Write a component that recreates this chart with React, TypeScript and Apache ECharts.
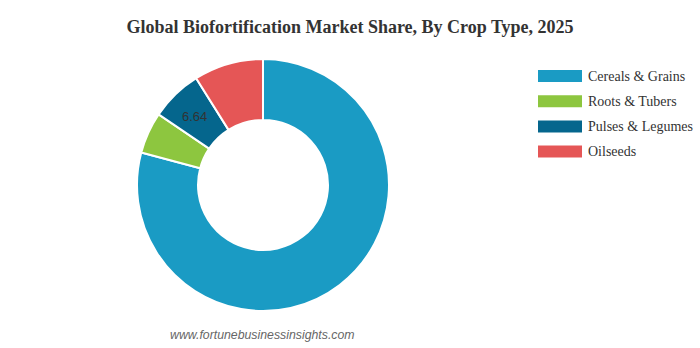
import React, { useEffect, useRef } from "react";
import * as echarts from "echarts";

const categories = ["Cereals & Grains", "Roots & Tubers", "Pulses & Legumes", "Oilseeds"];
const values = [79.16, 5.3, 6.64, 8.9];
const colors = ["#1a9bc4", "#8dc63f", "#05668d", "#e55656"];
const shownLabels = ["Pulses & Legumes"];

export default function App() {
  const ref = useRef<HTMLDivElement>(null);
  useEffect(() => {
    document.body.style.margin = "0";
    const chart = echarts.init(ref.current!, undefined, { renderer: "svg" });
    chart.setOption({
      animation: false,
      backgroundColor: "#ffffff",
      title: {
        text: "Global Biofortification Market Share, By Crop Type, 2025",
        left: "center",
        top: 13,
        textStyle: { fontFamily: "Liberation Serif", fontSize: 18, fontWeight: "bold", color: "#333" },
      },
      legend: {
        orient: "vertical",
        left: 531,
        top: 63,
        itemWidth: 46,
        itemHeight: 14,
        itemGap: 9.2,
        icon: "rect",
        data: categories,
        textStyle: { fontFamily: "Liberation Serif", fontSize: 14, lineHeight: 14, color: "#333" },
      },
      graphic: [
        {
          type: "text",
          left: 170,
          top: 329,
          style: {
            text: "www.fortunebusinessinsights.com",
            font: "italic 12.3px 'Liberation Sans'",
            fill: "#666",
          },
        },
      ],
      series: [
        {
          type: "pie",
          center: [263, 185],
          radius: [65, 126],
          startAngle: 90,
          clockwise: true,
          itemStyle: { borderColor: "#fff", borderWidth: 2 },
          label: { show: false },
          labelLine: { show: false },
          data: categories.map((c, i) => ({
            name: c,
            value: values[i],
            itemStyle: { color: colors[i] },
            label: shownLabels.includes(c)
              ? {
                  show: true,
                  position: "inside",
                  formatter: "{c}",
                  fontFamily: "Liberation Sans",
                  fontSize: 13,
                  color: "#333",
                  offset: [0, 2],
                }
              : { show: false },
          })),
        },
      ],
    });
    return () => chart.dispose();
  }, []);
  return <div ref={ref} style={{ width: 700, height: 348, position: "absolute", left: 0, top: 0 }} />;
}
